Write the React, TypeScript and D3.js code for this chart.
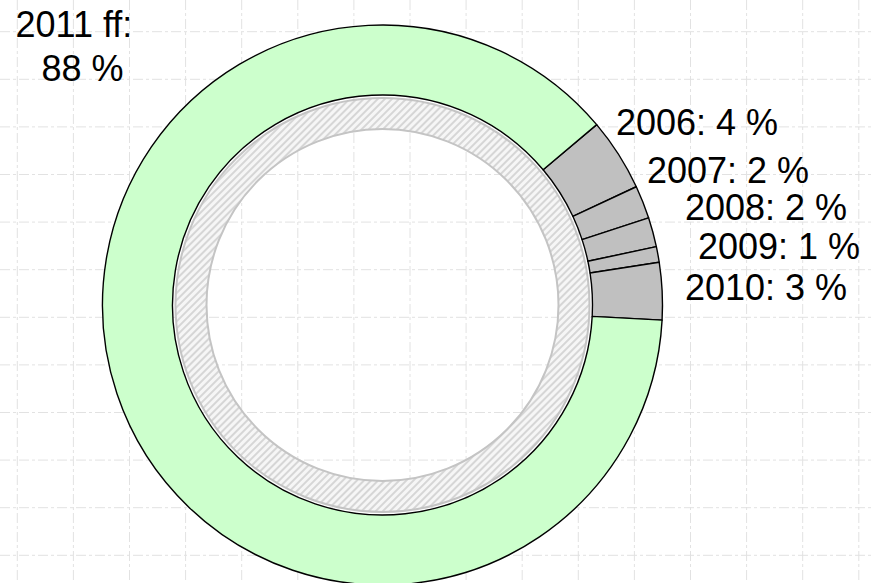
import React from 'react';
import * as d3 from 'd3';

// slices, clockwise from the first gray one
const years = ['2006', '2007', '2008', '2009', '2010', '2011 ff'];
const shares = [4.2, 1.9, 1.7, 0.9, 3.3, 88.0];
const shareText = ['4 %', '2 %', '2 %', '1 %', '3 %', '88 %'];

const W = 872;
const H = 583;
const cx = 382.5;
const cy = 305;
const rOuter = 280;
const rInner = 210;
const hatchOuter = 207;
const hatchInner = 176;
const startDeg = 49.9;

// label placement (text left edge, baseline) - hand laid out like the original
const labelAt: [number, number][] = [
  [616, 135],
  [647, 183],
  [685, 220],
  [698, 259],
  [685, 300],
];

const App = () => {
  const start = (startDeg * Math.PI) / 180;
  const pie = d3
    .pie<number>()
    .sort(null)
    .value((d) => d)
    .startAngle(start)
    .endAngle(start + 2 * Math.PI);
  const arcs = pie(shares);
  const arc = d3.arc<d3.PieArcDatum<number>>().innerRadius(rInner).outerRadius(rOuter);
  const ring = d3.arc()({ innerRadius: hatchInner, outerRadius: hatchOuter, startAngle: 0, endAngle: 2 * Math.PI }) as string;

  const gx = d3.range(16).map((i) => 17.3 + i * 56.1);
  const gy = d3.range(12).map((i) => 31.7 + i * 47.6);

  const font = "'Liberation Sans', Arial, sans-serif";

  return (
    <svg width={W} height={H} style={{ position: 'absolute', left: 0, top: 0, background: '#fff' }}>
      <defs>
        <pattern id="hatch" patternUnits="userSpaceOnUse" width="5" height="5" patternTransform="rotate(45)">
          <rect width="5" height="5" fill="#f6f6f6" />
          <rect width="2" height="5" fill="#d6d6d6" />
        </pattern>
      </defs>

      {/* grid */}
      <g stroke="#e2e2e2" strokeWidth={1} strokeDasharray="10,3,3,3">
        {gx.map((x, i) => (
          <line key={'v' + i} x1={x} x2={x} y1={0} y2={H} />
        ))}
        {gy.map((y, i) => (
          <line key={'h' + i} x1={0} x2={W} y1={y} y2={y} />
        ))}
      </g>

      <g transform={`translate(${cx},${cy})`}>
        {arcs.map((a, i) => (
          <path
            key={years[i]}
            d={arc(a) as string}
            fill={i === years.length - 1 ? '#ccffcc' : '#c0c0c0'}
            stroke="#000"
            strokeWidth={1.4}
            strokeLinejoin="round"
          />
        ))}
        <path d={ring} fill="url(#hatch)" stroke="#c4c4c4" strokeWidth={2} />
      </g>

      <g fontFamily={font} fontSize={36} fill="#000">
        {labelAt.map(([x, y], i) => (
          <text key={years[i]} x={x} y={y}>
            {`${years[i]}: ${shareText[i]}`}
          </text>
        ))}
        <text x={15.5} y={37}>{`${years[5]}:`}</text>
        <text x={41.5} y={81}>{shareText[5]}</text>
      </g>
    </svg>
  );
};

export default App;
